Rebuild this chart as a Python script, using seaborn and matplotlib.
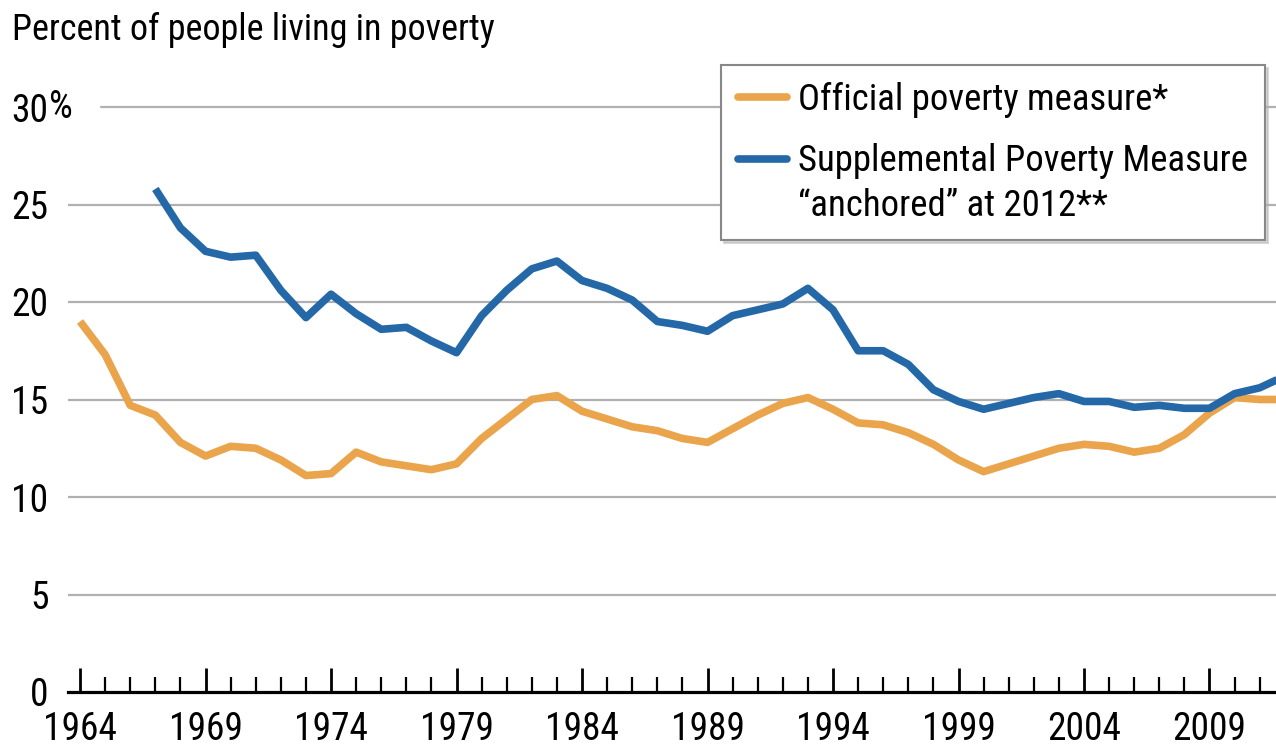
import numpy as np
import pandas as pd
import seaborn as sns
import matplotlib.pyplot as plt
from matplotlib import font_manager
from matplotlib.lines import Line2D
from matplotlib.ticker import MultipleLocator

# data
years = list(range(1964, 2013))
official = [19.0, 17.3, 14.7, 14.2, 12.8, 12.1, 12.6, 12.5, 11.9, 11.1,
            11.2, 12.3, 11.8, 11.6, 11.4, 11.7, 13.0, 14.0, 15.0, 15.2,
            14.4, 14.0, 13.6, 13.4, 13.0, 12.8, 13.5, 14.2, 14.8, 15.1,
            14.5, 13.8, 13.7, 13.3, 12.7, 11.9, 11.3, 11.7, 12.1, 12.5,
            12.7, 12.6, 12.3, 12.5, 13.2, 14.3, 15.1, 15.0, 15.0]
spm_years = list(range(1967, 2013))
spm_anchored = [25.8, 23.8, 22.6, 22.3, 22.4, 20.6, 19.2, 20.4, 19.4, 18.6,
                18.7, 18.0, 17.4, 19.3, 20.6, 21.7, 22.1, 21.1, 20.7, 20.1,
                19.0, 18.8, 18.5, 19.3, 19.6, 19.9, 20.7, 19.6, 17.5, 17.5,
                16.8, 15.5, 14.9, 14.5, 14.8, 15.1, 15.3, 14.9, 14.9, 14.6,
                14.7, 14.55, 14.55, 15.3, 15.6, 16.2]

series_names = ["Official poverty measure*",
                "Supplemental Poverty Measure\n\u201canchored\u201d at 2012**"]
y_ticks = [0, 5, 10, 15, 20, 25, 30]
x_ticks = list(range(1964, 2010, 5))

colors = ["#EAA44B", "#2468A8"]

df = pd.concat([
    pd.DataFrame({"year": years, "rate": official, "measure": series_names[0]}),
    pd.DataFrame({"year": spm_years, "rate": spm_anchored, "measure": series_names[1]}),
])

sns.set_style("white")
installed = {f.name for f in font_manager.fontManager.ttflist}
fams = [f for f in ["Roboto Condensed", "Liberation Sans Narrow",
                    "Open Sans Condensed", "Roboto"] if f in installed]
plt.rcParams['font.family'] = fams + ['DejaVu Sans']
plt.rcParams['text.color'] = 'black'
plt.rcParams['xtick.color'] = 'black'
plt.rcParams['ytick.color'] = 'black'

fig = plt.figure(figsize=(12.76, 7.51), dpi=100)
ax = fig.add_axes([68 / 1276, 59 / 751, 1208 / 1276, 624 / 751])

sns.lineplot(data=df, x="year", y="rate", hue="measure", hue_order=series_names,
             palette=colors, linewidth=5.5, legend=False, ax=ax,
             solid_capstyle="butt", zorder=3)

ax.set_xlim(1963.52, 2011.65)
ax.set_ylim(0, 32)

# gridlines
for v in y_ticks[1:]:
    start = 0.027 if v == 30 else 0.0
    ax.axhline(v, xmin=start, xmax=1, color="#b0b0b0", linewidth=1.6, zorder=1)

for s in ["top", "right", "left"]:
    ax.spines[s].set_visible(False)
ax.spines["bottom"].set_linewidth(2.3)
ax.spines["bottom"].set_color("black")
ax.spines["bottom"].set_zorder(4)

ax.set_xticks(x_ticks)
ax.set_xticklabels([str(x) for x in x_ticks])
ax.xaxis.set_minor_locator(MultipleLocator(1))
ax.tick_params(axis="x", which="both", bottom=True, direction="in")
ax.tick_params(axis="x", which="major", length=17, width=2,
               pad=14, labelsize=27)
ax.tick_params(axis="x", which="minor", length=11, width=1.6)
ax.set_yticks(y_ticks)
ax.set_yticklabels([str(v) for v in y_ticks])
ax.tick_params(axis="y", length=0, pad=14, labelsize=27)
ax.annotate("%", xy=(0, 30), xycoords=("axes fraction", "data"),
            xytext=(-14, 0), textcoords="offset points", ha="left",
            va="center", fontsize=27)
ax.set_xlabel("")
ax.set_ylabel("")

fig.text(12 / 1276, 1 - 12 / 751, "Percent of people living in poverty",
         ha="left", va="top", fontsize=26)

handles = [Line2D([], [], color=c, linewidth=5.5) for c in colors]
leg = ax.legend(handles, series_names, loc="upper right",
                bbox_to_anchor=(1265 / 1276, 1 - 65 / 751),
                bbox_transform=fig.transFigure, borderaxespad=0,
                fontsize=26.5, frameon=True, fancybox=False,
                handlelength=1.35, handletextpad=0.3, borderpad=0.45,
                labelspacing=0.7, shadow={"color": "0.7", "alpha": 0.5})
leg.get_frame().set_edgecolor("#888888")
leg.get_frame().set_linewidth(1.5)
leg.set_zorder(5)
for t in leg.get_texts():
    t.set_linespacing(1.3)
# put the blue handle beside the first line of its two-line label
blue = leg.legend_handles[1]
blue.set_ydata(np.asarray(blue.get_ydata()) + 18.5)

fig.savefig("out.png", dpi=100)
